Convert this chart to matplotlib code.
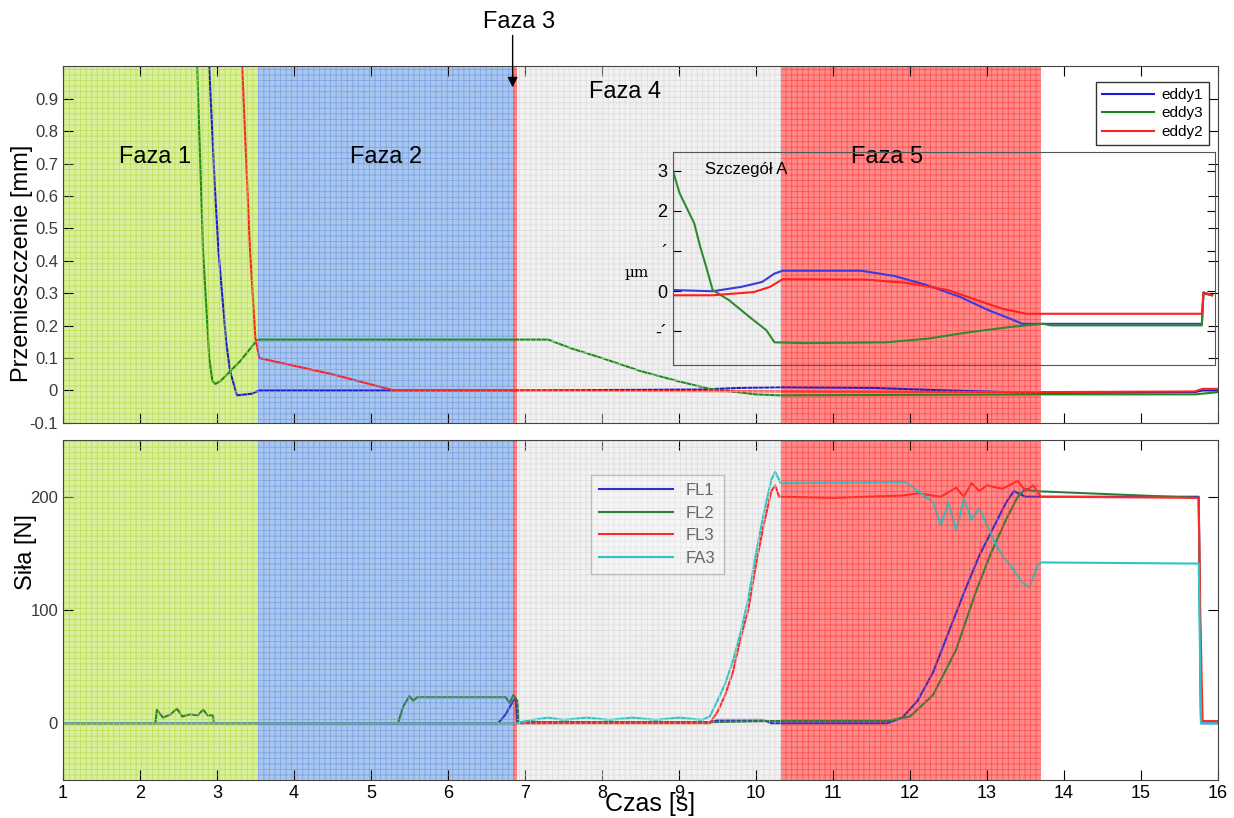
import numpy as np
import matplotlib; matplotlib.use("Agg")
import matplotlib.pyplot as plt

plt.rcParams['font.family'] = ['Liberation Sans', 'DejaVu Sans']
plt.rcParams['hatch.linewidth'] = 0.6

# phases: (start, end, face, grid)
phase_start = [1.0, 3.53, 6.84, 6.90, 10.32]
phase_end = [3.53, 6.84, 6.90, 10.32, 13.70]
phase_face = ['#d9ef9e', '#a9c6ee', '#ff8a8a', '#f1f1f1', '#ff8a8a']
phase_grid = ['#b3dc3a', '#6b98e0', '#ff3b3b', '#d6d6d6', '#ff3b3b']

# top panel: displacement [mm]
eddy1_t = [2.88, 2.97, 3.02, 3.12, 3.17, 3.26, 3.45, 3.55, 5.0, 6.9, 9.3, 9.8, 10.3, 11.5, 12.5, 13.7, 15.7, 15.8, 16.0]
eddy1_v = [1.10, 0.64, 0.43, 0.15, 0.06, -0.015, -0.01, 0.0, 0.0, 0.0, 0.003, 0.008, 0.01, 0.008, 0.0, -0.008, -0.005, 0.0, 0.0]
eddy3_t = [2.73, 2.82, 2.90, 2.94, 2.98, 3.05, 3.30, 3.52, 3.55, 6.9, 7.3, 7.6, 8.0, 8.5, 9.0, 9.4, 10.0, 10.3, 13.7, 15.7, 16.0]
eddy3_v = [1.10, 0.43, 0.10, 0.03, 0.02, 0.03, 0.09, 0.155, 0.157, 0.157, 0.157, 0.13, 0.10, 0.06, 0.028, 0.005, -0.012, -0.015, -0.012, -0.012, -0.005]
eddy2_t = [3.31, 3.43, 3.50, 3.55, 4.5, 5.3, 6.9, 10.3, 13.7, 15.7, 15.8, 16.0]
eddy2_v = [1.10, 0.43, 0.16, 0.10, 0.05, 0.0, 0.0, -0.003, -0.005, -0.003, 0.005, 0.005]

# inset "Szczegół A" (relative position, µm)
in1_x = [0.0, 0.074, 0.127, 0.165, 0.188, 0.203, 0.348, 0.409, 0.47, 0.53, 0.584, 0.622, 0.645, 0.976, 0.979, 0.995]
in1_v = [0.03, 0.0, 0.11, 0.23, 0.44, 0.51, 0.51, 0.38, 0.15, -0.14, -0.48, -0.68, -0.81, -0.81, -0.03, -0.1]
in3_x = [0.0, 0.013, 0.04, 0.051, 0.062, 0.074, 0.104, 0.142, 0.173, 0.188, 0.241, 0.393, 0.47, 0.546, 0.622, 0.683, 0.698, 0.976, 0.979, 0.995]
in3_v = [3.03, 2.44, 1.69, 1.11, 0.61, 0.03, -0.22, -0.64, -0.97, -1.27, -1.29, -1.27, -1.18, -1.02, -0.89, -0.81, -0.85, -0.85, -0.06, -0.1]
in2_x = [0.0, 0.074, 0.15, 0.18, 0.203, 0.356, 0.431, 0.508, 0.561, 0.607, 0.652, 0.976, 0.979, 0.995]
in2_v = [-0.1, -0.1, -0.02, 0.11, 0.30, 0.29, 0.21, 0.03, -0.22, -0.43, -0.56, -0.56, -0.03, -0.1]

# bottom panel: force [N]
fl1_t = [1.0, 6.65, 6.75, 6.85, 6.88, 6.90, 7.0, 9.4, 9.5, 10.1, 10.2, 11.7, 11.9, 12.1, 12.3, 12.5, 12.7, 12.9, 13.1, 13.25, 13.35, 13.5, 15.75, 15.78, 16.0]
fl1_v = [0, 0, 8, 20, 22, 1, 1, 1, 3, 3, 0, 0, 5, 20, 45, 80, 115, 148, 175, 195, 205, 200, 200, 0, 0]
fl2_t = [1.0, 2.2, 2.22, 2.3, 2.4, 2.48, 2.55, 2.65, 2.75, 2.82, 2.88, 2.95, 2.96, 5.35, 5.42, 5.5, 5.55, 5.6, 6.75, 6.8, 6.85, 6.9, 6.92,
         9.4, 10.2, 11.7, 12.0, 12.3, 12.6, 12.85, 13.05, 13.25, 13.4, 13.5, 13.6, 15.75, 15.78, 16.0]
fl2_v = [0, 0, 12, 5, 8, 13, 6, 8, 7, 12, 7, 7, 0, 0, 15, 24, 20, 23, 23, 18, 25, 20, 0,
         1, 2, 2, 6, 25, 65, 115, 150, 180, 200, 207, 205, 199, 2, 2]
fl3_t = [1.0, 9.4, 9.5, 9.6, 9.7, 9.8, 9.9, 10.0, 10.1, 10.2, 10.25, 10.3, 11.0, 11.9, 12.1, 12.4, 12.6, 12.7, 12.8, 12.9, 13.0, 13.2, 13.4, 13.5, 13.6, 13.7, 15.75, 15.77, 15.8, 16.0]
fl3_v = [0, 0, 10, 25, 45, 75, 100, 140, 175, 205, 210, 200, 199, 201, 203, 200, 208, 200, 212, 205, 210, 207, 214, 205, 210, 200, 199, 100, 2, 2]
fa3_t = [1.0, 6.9, 7.0, 7.3, 7.5, 7.8, 8.1, 8.4, 8.7, 9.0, 9.3, 9.4, 9.5, 9.6, 9.7, 9.8, 9.9, 10.0, 10.1, 10.2, 10.25, 10.32, 11.95,
         12.1, 12.3, 12.4, 12.5, 12.6, 12.7, 12.8, 12.9, 13.0, 13.1, 13.2, 13.3, 13.45, 13.55, 13.65, 13.7, 15.75, 15.78, 16.0]
fa3_v = [0, 0, 2, 5, 3, 5, 3, 5, 3, 5, 3, 6, 20, 35, 55, 80, 110, 150, 185, 215, 222, 212, 213,
         205, 195, 175, 195, 170, 198, 180, 190, 175, 160, 148, 140, 125, 120, 138, 142, 141, 0, 0]

fig = plt.figure(figsize=(12.34, 8.18), dpi=100)
ax1 = fig.add_axes([0.051, 0.483, 0.936, 0.436])
ax2 = fig.add_axes([0.051, 0.0465, 0.936, 0.4155])

for ax in (ax1, ax2):
    for s, e, fc, gc in zip(phase_start, phase_end, phase_face, phase_grid):
        ax.axvspan(s, e, facecolor=fc, edgecolor='none', lw=0, zorder=0)
        ax.axvspan(s, e, facecolor='none', edgecolor=gc, hatch='+++', lw=0, zorder=4, alpha=0.7)
    ax.set_xlim(1, 16)
    ax.set_xticks(range(1, 17))
    ax.tick_params(direction='in', length=7, top=True, right=True, labelsize=12, labelcolor='#3a3a3a')
    for sp in ax.spines.values():
        sp.set_color('#444444'); sp.set_zorder(6)

ax1.plot(eddy1_t, eddy1_v, color='#1a1ad6', lw=1.5, zorder=3, label='eddy1')
ax1.plot(eddy3_t, eddy3_v, color='#1b8a1b', lw=1.5, zorder=3, label='eddy3')
ax1.plot(eddy2_t, eddy2_v, color='#ff2020', lw=1.5, zorder=3, label='eddy2')
ax1.set_ylim(-0.1, 1.0)
ax1.set_yticks(np.arange(-0.1, 0.95, 0.1))
ax1.set_yticklabels(['-0.1', '0', '0.1', '0.2', '0.3', '0.4', '0.5', '0.6', '0.7', '0.8', '0.9'])
ax1.tick_params(labelbottom=False)
leg1 = ax1.legend(loc='upper right', bbox_to_anchor=(0.999, 0.978), fontsize=11, fancybox=False,
                  edgecolor='#333333', framealpha=1, handlelength=3.4, handletextpad=0.5,
                  borderpad=0.4, labelspacing=0.3)
leg1.set_zorder(7)

ax1.text(2.2, 0.72, 'Faza 1', fontsize=17, ha='center', va='center', zorder=8)
ax1.text(5.2, 0.72, 'Faza 2', fontsize=17, ha='center', va='center', zorder=8)
ax1.text(8.3, 0.92, 'Faza 4', fontsize=17, ha='center', va='center', zorder=8)
ax1.text(11.7, 0.72, 'Faza 5', fontsize=17, ha='center', va='center', zorder=8)
ax1.text(6.92, 1.138, 'Faza 3', fontsize=17, ha='center', va='center', clip_on=False, zorder=8)
ax1.annotate('', xy=(6.84, 0.935), xytext=(6.84, 1.095), annotation_clip=False, zorder=8,
             arrowprops=dict(arrowstyle='-|>', color='black', lw=1, shrinkA=0, shrinkB=0, mutation_scale=15))

# inset
axi = fig.add_axes([0.545, 0.554, 0.4395, 0.26])
axi.patch.set_alpha(0)
axi.set_zorder(5)
axi.plot(in1_x, in1_v, color='#3a3ae0', lw=1.5)
axi.plot(in3_x, in3_v, color='#2e8b2e', lw=1.5)
axi.plot(in2_x, in2_v, color='#ff2020', lw=1.5)
axi.set_xlim(0, 1.0)
axi.set_ylim(-1.83, 3.46)
axi.set_xticks([])
axi.set_yticks([-1, 0, 1, 2, 3])
axi.set_yticklabels(['-\u00b4', '0', '\u00b4', '2', '3'])
axi.tick_params(direction='in', length=6, right=True, labelsize=13, pad=4)
for sp in axi.spines.values():
    sp.set_color('#555555')
axi.text(-0.066, 0.43, '\u00b5m', transform=axi.transAxes, fontsize=11, family='DejaVu Serif', ha='center', va='center')
axi.text(0.06, 0.92, 'Szczegół A', transform=axi.transAxes, fontsize=12, ha='left', va='center')

ax2.plot(fl1_t, fl1_v, color='#3030c8', lw=1.5, zorder=3, label='FL1')
ax2.plot(fl2_t, fl2_v, color='#2f7d3a', lw=1.5, zorder=3, label='FL2')
ax2.plot(fl3_t, fl3_v, color='#ff2a2a', lw=1.5, zorder=3, label='FL3')
ax2.plot(fa3_t, fa3_v, color='#2fc4c4', lw=1.5, zorder=3, label='FA3')
ax2.set_ylim(-50, 250)
ax2.set_yticks([0, 100, 200])
ax2.tick_params(axis='x', labelcolor='black', labelsize=13)
leg2 = ax2.legend(loc='upper left', bbox_to_anchor=(0.450, 0.922), fontsize=12, fancybox=False,
                  edgecolor='#555555', framealpha=0.3, handlelength=4.4, borderpad=0.5, labelspacing=0.45)
for t in leg2.get_texts():
    t.set_color('#666666')
leg2.set_zorder(7)

fig.text(22 / 1234, 1 - 263 / 818, 'Przemieszczenie [mm]', rotation=90, fontsize=17, ha='center', va='center')
fig.text(26 / 1234, 1 - 552 / 818, 'Siła [N]', rotation=90, fontsize=17, ha='center', va='center')
fig.text(650 / 1234, 1 - 804 / 818, 'Czas [s]', fontsize=18, ha='center', va='center')

fig.savefig('out.png', dpi=100)
